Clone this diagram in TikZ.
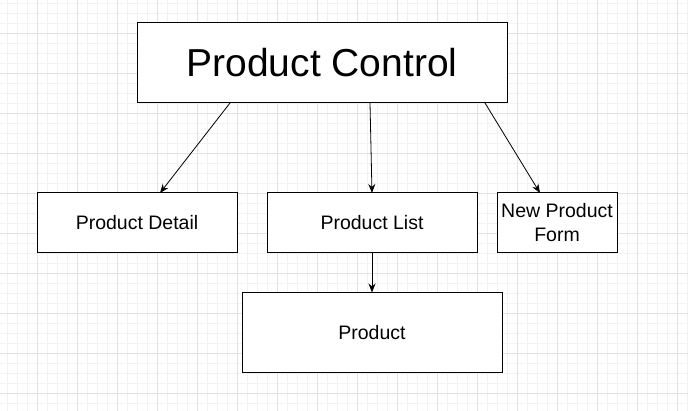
\documentclass[tikz,border=0pt]{standalone}
\usepackage{fontspec}
\setmainfont{Liberation Sans}
\usetikzlibrary{arrows.meta}
\definecolor{minorgrid}{HTML}{F2F2F2}
\definecolor{majorgrid}{HTML}{E2E2E2}
\tikzset{
  box/.style={draw=black, line width=1pt, fill=white, inner sep=0pt},
  conn/.style={draw=black, line width=0.8pt, -{Stealth[length=9pt,width=7pt]}},
}
\begin{document}
\begin{tikzpicture}[x=1pt,y=-1pt]
\useasboundingbox (0,0) rectangle (688,411);
\fill[white] (0,0) rectangle (688,411);
\foreach \i in {0,...,68} {\draw[minorgrid, line width=0.8pt] (7+10*\i,0) -- (7+10*\i,411);}
\foreach \j in {0,...,40} {\draw[minorgrid, line width=0.8pt] (0,3+10*\j) -- (688,3+10*\j);}
\foreach \i in {0,...,16} {\draw[majorgrid, line width=0.8pt] (37+40*\i,0) -- (37+40*\i,411);}
\foreach \j in {0,...,9} {\draw[majorgrid, line width=0.8pt] (0,33+40*\j) -- (688,33+40*\j);}

\node[box, minimum width=370pt, minimum height=80pt, font=\fontsize{39}{44}\selectfont] (pc) at (322,63) {Product Control};
\node[box, minimum width=200pt, minimum height=60pt, font=\fontsize{19.5}{23}\selectfont] (pd) at (137,223) {Product Detail};
\node[box, minimum width=210pt, minimum height=60pt, font=\fontsize{19.5}{23}\selectfont] (pl) at (372,223) {Product List};
\node[box, minimum width=120pt, minimum height=60pt, font=\fontsize{19.5}{24}\selectfont, align=center] (np) at (557,223) {New Product\\Form};
\node[box, minimum width=260pt, minimum height=80pt, font=\fontsize{19.5}{23}\selectfont] (p) at (372,333) {Product};

\coordinate (a1s) at (230,103);
\coordinate (a2s) at (370,103);
\coordinate (a3s) at (485,103);
\draw[conn] (a1s) -- (160,193);
\draw[conn] (a2s) -- (372,193);
\draw[conn] (a3s) -- (540,193);
\draw[conn] (pl.south) -- (p.north);
\end{tikzpicture}
\end{document}
